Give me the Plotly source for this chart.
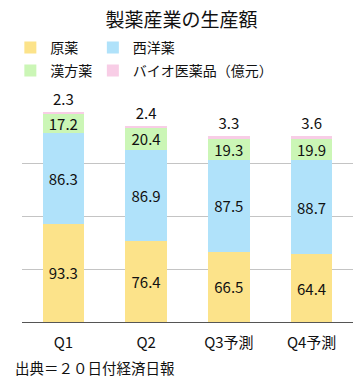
import plotly.graph_objects as go

categories = ["Q1", "Q2", "Q3予測", "Q4予測"]
genyaku = [93.3, 76.4, 66.5, 64.4]
seiyoyaku = [86.3, 86.9, 87.5, 88.7]
kanpoyaku = [17.2, 20.4, 19.3, 19.9]
bio = [2.3, 2.4, 3.3, 3.6]
series_names = ["原薬", "西洋薬", "漢方薬", "バイオ医薬品（億元）"]
colors = ["#FCE38A", "#B0E2FA", "#CBF6B6", "#F8CDE6"]
title_text = "製薬産業の生産額"
source_text = "出典＝２０日付経済日報"

FONT = "Noto Sans CJK JP"
W, H = 363, 379
ML, MR, MT, MB = 12, 10, 111, 57
PW = W - ML - MR
PH = H - MT - MB

def px_x(x):
    return (x - ML) / PW

def px_y(y):
    return (H - MB - y) / PH

fig = go.Figure()
data = [genyaku, seiyoyaku, kanpoyaku, bio]
legend_ids = ["legend", "legend2", "legend3", "legend4"]
legend_pos = [(0, 48), (85, 48), (0, 71), (85, 71)]
for i, (name, vals) in enumerate(zip(series_names, data)):
    top = i == 3
    fig.add_trace(go.Bar(
        x=categories, y=vals, name=name,
        marker=dict(color=colors[i], line=dict(width=0)),
        text=[f"{v:.1f}" for v in vals],
        textposition="outside" if top else "inside",
        insidetextanchor="middle",
        constraintext="none",
        cliponaxis=False,
        textfont=dict(family=FONT, size=15, color="#111111"),
        legend=legend_ids[i],
        showlegend=True,
        hoverinfo="skip",
    ))

legend_layouts = {}
for lid, (lx, ly) in zip(legend_ids, legend_pos):
    legend_layouts[lid] = dict(
        visible=True,
        orientation="h", x=px_x(lx), xanchor="left",
        y=px_y(ly), yanchor="middle",
        bgcolor="rgba(0,0,0,0)",
        font=dict(family=FONT, size=14, color="#111111"))

fig.update_layout(
    width=W, height=H,
    showlegend=True,
    margin=dict(l=ML, r=MR, t=MT, b=MB, pad=0),
    barmode="stack",
    bargap=0.5,
    paper_bgcolor="white",
    plot_bgcolor="white",
    font=dict(family=FONT, color="#111111"),
    title=dict(text=title_text, x=0.5, xanchor="center",
               y=1 - 20 / H, yanchor="middle",
               font=dict(family=FONT, size=19, color="#111111")),
    xaxis=dict(showgrid=False, showline=True, linecolor="#555555", linewidth=1,
               ticks="", ticklabelstandoff=7,
               tickfont=dict(family=FONT, size=15, color="#111111"),
               fixedrange=True),
    yaxis=dict(range=[0, 200], dtick=50, showgrid=True, gridcolor="#C4C4C4",
               gridwidth=1, showticklabels=False, zeroline=False, ticks="",
               fixedrange=True),
    annotations=[dict(text=source_text, xref="paper", yref="paper",
                      x=px_x(3), y=px_y(367.5), xanchor="left", yanchor="middle",
                      showarrow=False,
                      font=dict(family=FONT, size=14.5, color="#111111"))],
    **legend_layouts,
)

fig.write_html("out.html", config={"displayModeBar": False},
               post_script="document.body.style.margin='0';")
